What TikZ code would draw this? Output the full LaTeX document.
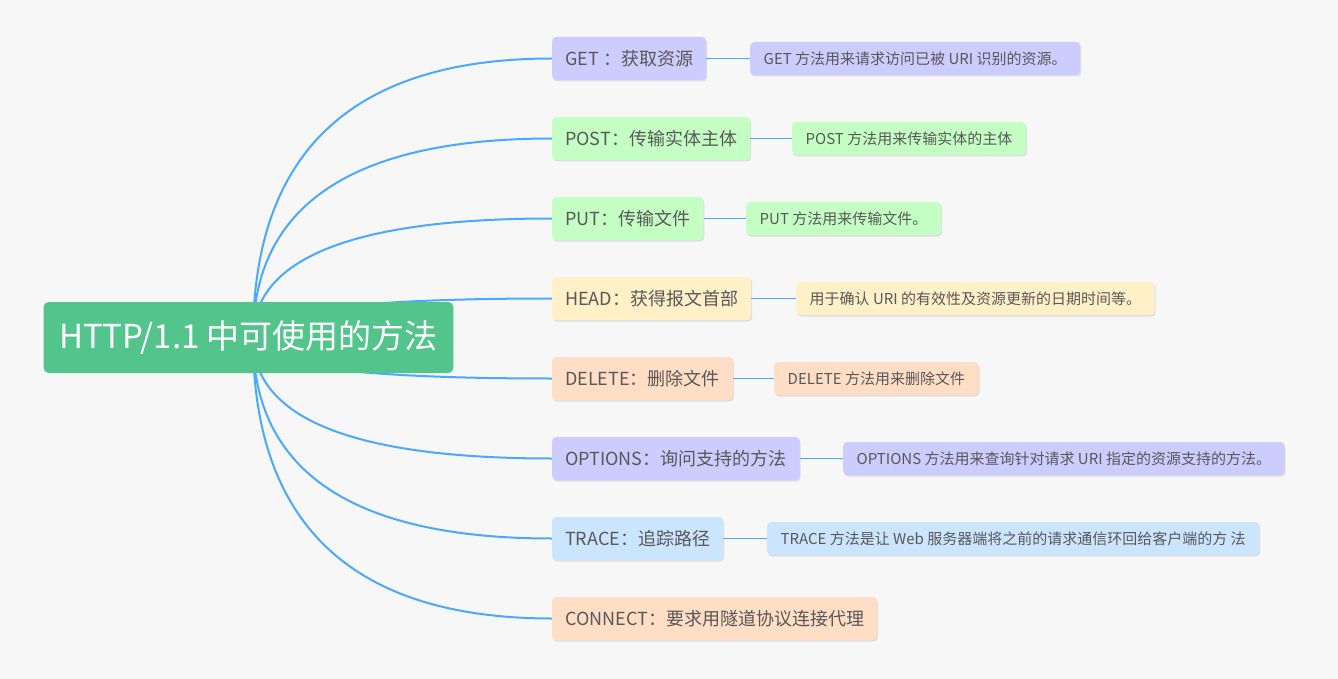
\documentclass[tikz,border=0pt]{standalone}
\usepackage{fontspec}
\setmainfont{Noto Sans CJK SC}
\usetikzlibrary{shadows,calc}
\definecolor{pagebg}{RGB}{247,247,247}
\definecolor{rootgreen}{RGB}{82,196,140}
\definecolor{linkblue}{RGB}{74,168,255}
\definecolor{textgray}{RGB}{88,88,88}
\definecolor{violetbg}{RGB}{204,204,255}
\definecolor{greenbg}{RGB}{196,255,196}
\definecolor{yellowbg}{RGB}{255,240,200}
\definecolor{peachbg}{RGB}{255,222,197}
\definecolor{bluebg}{RGB}{204,229,255}
\begin{document}
\begin{tikzpicture}[x=1pt,y=-1pt,
  boxshadow/.style={drop shadow={shadow xshift=1pt,shadow yshift=-1.5pt,fill=black,opacity=0.10}},
  rootbox/.style={fill=rootgreen,text=white,rounded corners=5pt,minimum height=71pt,
    inner xsep=15.5pt,font=\fontsize{33}{39}\selectfont},
  topic/.style={boxshadow,rounded corners=4pt,anchor=west,minimum height=43pt,
    inner xsep=13pt,text=textgray,font=\fontsize{18}{22}\selectfont},
  note/.style={boxshadow,rounded corners=4pt,anchor=west,minimum height=33pt,
    inner xsep=13.5pt,text=textgray,font=\fontsize{15}{18}\selectfont},
  branch/.style={draw=linkblue,line width=2pt},
  link/.style={draw=linkblue,line width=1.2pt}]
\fill[pagebg] (0,0) rectangle (1338,679);
\coordinate (hub) at (253,338);
% methods
\node[topic,fill=violetbg] (get) at (552,58.5) {GET ：获取资源};
\node[topic,fill=greenbg] (post) at (552,138.5) {POST：传输实体主体};
\node[topic,fill=greenbg] (put) at (552,218.5) {PUT：传输文件};
\node[topic,fill=yellowbg] (head) at (552,298.5) {HEAD：获得报文首部};
\node[topic,fill=peachbg] (delete) at (552,378.5) {DELETE：删除文件};
\node[topic,fill=violetbg] (options) at (552,458.5) {OPTIONS：询问支持的方法};
\node[topic,fill=bluebg] (trace) at (552,538.5) {TRACE：追踪路径};
\node[topic,fill=peachbg] (connect) at (552,618.5) {CONNECT：要求用隧道协议连接代理};
% notes
\node[note,fill=violetbg] (getnote) at (750,58.5) {GET 方法用来请求访问已被 URI 识别的资源。};
\node[note,fill=greenbg] (postnote) at (792,138.5) {POST 方法用来传输实体的主体};
\node[note,fill=greenbg] (putnote) at (746,218.5) {PUT 方法用来传输文件。};
\node[note,fill=yellowbg] (headnote) at (796,298.5) {用于确认 URI 的有效性及资源更新的日期时间等。};
\node[note,fill=peachbg] (deletenote) at (774,378.5) {DELETE 方法用来删除文件};
\node[note,fill=violetbg] (optionsnote) at (843,458.5) {OPTIONS 方法用来查询针对请求 URI 指定的资源支持的方法。};
\node[note,fill=bluebg] (tracenote) at (767,538.5) {TRACE 方法是让 Web 服务器端将之前的请求通信环回给客户端的方 法};
% connectors
\foreach \m in {get,post,put,head,delete,options,trace,connect}
  \draw[branch] (hub) .. controls ($(hub)!2/3!(hub |- \m.west)$)
    and ($(\m.west)!2/3!(hub |- \m.west)$) .. (\m.west);
\foreach \m in {get,post,put,head,delete,options,trace}
  \draw[link] (\m) -- (\m note);
\node[rootbox] (root) at (248.5,337.5) {HTTP/1.1 中可使用的方法};
\end{tikzpicture}
\end{document}
